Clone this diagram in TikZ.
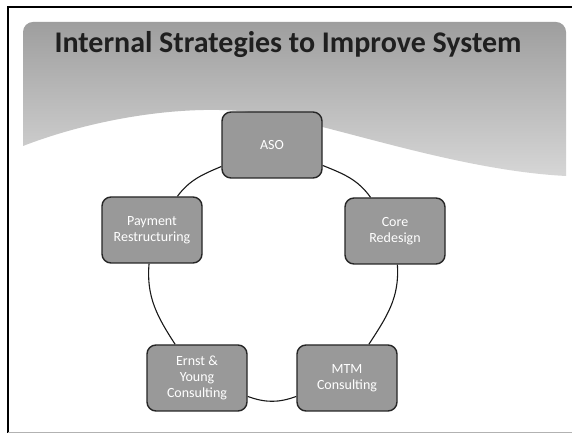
\documentclass[tikz,border=0pt]{standalone}
\usepackage{fontspec}
\setmainfont{Carlito}
\begin{document}
\begin{tikzpicture}[x=1pt,y=1pt,
  cyclebox/.style={draw=black!85, line width=1.4pt, fill=black!40,
    rounded corners=9pt, minimum width=100pt, minimum height=66pt,
    text=white, font=\fontsize{14}{16}\selectfont, align=center, inner sep=2pt},
  ring/.style={draw=black!90, line width=1.1pt},
  titletext/.style={font=\fontsize{30}{36}\selectfont\bfseries, text=black!88}]
\useasboundingbox (0,0) rectangle (572,435);
\fill[white] (0,0) rectangle (572,435);

% slide frame
\draw[black, line width=1.8pt] (8,2) -- (8,428) -- (572,428);
\draw[black!30, line width=1pt] (8,2) -- (572,2);

% title banner with a curved lower edge
\shade[top color=black!38, bottom color=black!16]
  (23,289) [rounded corners=10pt] -- (23,413) -- (566,413) -- (566,300) [sharp corners] -- (566,259)
  .. controls (450,265) and (320,315) .. (250,323)
  .. controls (180,331) and (90,315) .. (23,289) -- cycle;

\node[titletext, anchor=base west] (title) at (51,382) {Internal Strategies to Improve System};

% cycle of strategies
\node[cyclebox] (aso)   at (272,290) {ASO};
\node[cyclebox] (core)  at (395,204) {Core\\Redesign};
\node[cyclebox] (mtm)   at (347,57)  {MTM\\Consulting};
\node[cyclebox] (ernst) at (197,57)  {Ernst \&\\Young\\Consulting};
\node[cyclebox] (pay)   at (152,205) {Payment\\Restructuring};

\draw[ring] (aso)   to[out=-22, in=126] (core);
\draw[ring] (core)  to[out=-86, in=57]  (mtm);
\draw[ring] (mtm)   to[out=200, in=-20] (ernst);
\draw[ring] (ernst) to[out=123, in=-95] (pay);
\draw[ring] (pay)   to[out=53,  in=203] (aso);
\end{tikzpicture}
\end{document}
